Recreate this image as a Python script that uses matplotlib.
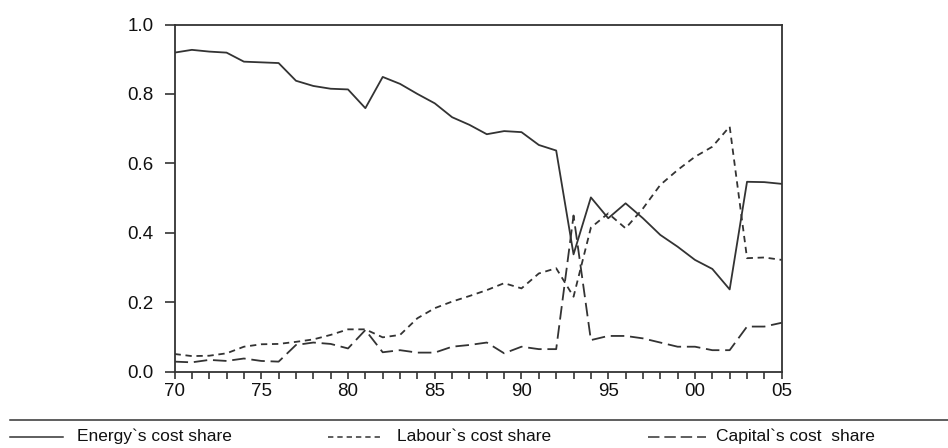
import matplotlib.pyplot as plt
from matplotlib.lines import Line2D

# values, years 1970-2005
years = list(range(1970, 2006))
energy = [0.919, 0.927, 0.922, 0.919, 0.893, 0.891, 0.889, 0.838, 0.823, 0.815,
          0.813, 0.759, 0.849, 0.829, 0.800, 0.773, 0.733, 0.711, 0.684, 0.693,
          0.690, 0.653, 0.637, 0.338, 0.502, 0.442, 0.485, 0.442, 0.394, 0.360,
          0.322, 0.296, 0.237, 0.547, 0.546, 0.541]
labour = [0.051, 0.045, 0.046, 0.053, 0.072, 0.079, 0.080, 0.086, 0.093, 0.106,
          0.122, 0.122, 0.099, 0.106, 0.154, 0.183, 0.202, 0.218, 0.235, 0.255,
          0.240, 0.283, 0.298, 0.216, 0.415, 0.456, 0.413, 0.470, 0.538, 0.581,
          0.619, 0.648, 0.706, 0.327, 0.329, 0.322]
capital = [0.029, 0.027, 0.034, 0.031, 0.038, 0.031, 0.029, 0.077, 0.084, 0.080,
           0.067, 0.120, 0.056, 0.062, 0.055, 0.055, 0.072, 0.077, 0.084, 0.053,
           0.072, 0.065, 0.065, 0.450, 0.091, 0.103, 0.103, 0.096, 0.084, 0.072,
           0.072, 0.062, 0.062, 0.130, 0.130, 0.141]
tick_years = [1970, 1975, 1980, 1985, 1990, 1995, 2000, 2005]
tick_labels = ['70', '75', '80', '85', '90', '95', '00', '05']
legend_labels = ["Energy`s cost share", "Labour`s cost share", "Capital`s cost  share"]

plt.rcParams['font.family'] = ['Liberation Sans', 'DejaVu Sans']
ink = '#333333'
labour_dash = (3.5, 2.6)
capital_dash = (7.5, 3.2)

fig = plt.figure(figsize=(9.48, 4.48), dpi=100)
ax = fig.add_axes([0.1841, 0.1703, 0.6405, 0.775])

ax.plot(years, energy, color=ink, lw=1.3)
ax.plot(years, labour, color=ink, lw=1.3, dashes=labour_dash)
ax.plot(years, capital, color=ink, lw=1.3, dashes=capital_dash)

ax.set_xlim(1970, 2005)
ax.set_ylim(0, 1.0)
ax.set_xticks(tick_years)
ax.set_xticklabels(tick_labels)
ax.set_xticks(years, minor=True)
ax.set_yticks([0.0, 0.2, 0.4, 0.6, 0.8, 1.0])
ax.set_yticklabels(['0.0', '0.2', '0.4', '0.6', '0.8', '1.0'])

for s in ax.spines.values():
    s.set_color(ink)
    s.set_linewidth(1.3)
ax.tick_params(axis='x', which='both', direction='out', length=5, width=1.2,
               color=ink, labelsize=13.5, labelcolor='#111111', pad=3)
ax.tick_params(axis='y', direction='out', length=7, width=1.2, color=ink,
               labelsize=13.5, labelcolor='#111111', pad=8)

# legend strip under the chart
fig.add_artist(Line2D([0.0105, 1.0], [0.0625, 0.0625], transform=fig.transFigure,
                      color=ink, lw=1.1))
handle_x = [(10, 63), (328, 382), (648, 706)]
text_x = [77, 397, 716]
styles = [None, labour_dash, capital_dash]
y_leg = (448 - 436.5) / 448
for (x0, x1), tx, lab, ds in zip(handle_x, text_x, legend_labels, styles):
    ln = Line2D([x0 / 948, x1 / 948], [y_leg, y_leg], transform=fig.transFigure,
                color=ink, lw=1.1)
    if ds is not None:
        ln.set_dashes(ds)
    fig.add_artist(ln)
    fig.text(tx / 948, y_leg, lab, fontsize=12.5, color='#111111', va='center', ha='left')

fig.savefig('out.png', dpi=100)
